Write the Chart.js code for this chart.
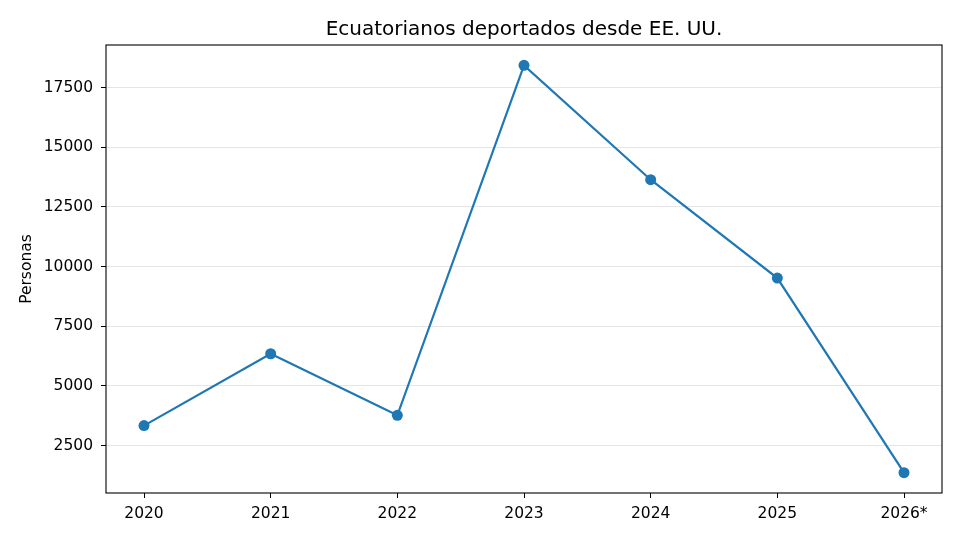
<!DOCTYPE html>
<html>
<head>
<meta charset="utf-8">
<script src="https://cdn.jsdelivr.net/npm/chart.js@4.4.1/dist/chart.umd.min.js"></script>
<style>
  html, body { margin: 0; padding: 0; background: #fff; }
  #wrap { width: 960px; height: 541px; }
</style>
</head>
<body>
<div id="wrap"><canvas id="deportChart" width="960" height="541"></canvas></div>
<script>
// Data
const years = ['2020', '2021', '2022', '2023', '2024', '2025', '2026*'];
const deportados = [3340, 6350, 3770, 18430, 13640, 9520, 1370];
const yTicks = [2500, 5000, 7500, 10000, 12500, 15000, 17500];
const chartTitle = 'Ecuatorianos deportados desde EE. UU.';

// matplotlib-like 5% margins around the data
const lo = Math.min(...deportados), hi = Math.max(...deportados);
const margin = (hi - lo) * 0.05;

// box around the plot area (all four spines) + title centred over the axes
const frame = {
  id: 'frame',
  afterDraw(chart) {
    const { ctx, chartArea: a } = chart;
    ctx.save();
    ctx.strokeStyle = '#000';
    ctx.lineWidth = 1.1;
    ctx.strokeRect(a.left, a.top, a.right - a.left, a.bottom - a.top);

    ctx.fillStyle = '#000';
    ctx.font = '20px "DejaVu Sans"';
    ctx.textAlign = 'center';
    ctx.textBaseline = 'middle';
    ctx.fillText(chartTitle, (a.left + a.right) / 2, 29.5);
    ctx.restore();
  }
};

Chart.defaults.font.family = 'DejaVu Sans';
Chart.defaults.color = '#000';

const ctx = document.getElementById('deportChart').getContext('2d');
const deportChart = new Chart(ctx, {
  type: 'line',
  data: {
    datasets: [{
      label: 'Personas',
      data: deportados.map((v, i) => ({ x: i, y: v })),
      borderColor: '#1f77b4',
      backgroundColor: '#1f77b4',
      borderWidth: 2.2,
      pointRadius: 5.5,
      pointBorderWidth: 0,
      tension: 0
    }]
  },
  options: {
    responsive: false,
    animation: false,
    devicePixelRatio: 1,
    layout: { padding: { left: 0, right: 18, top: 45, bottom: 0 } },
    plugins: {
      legend: { display: false },
      tooltip: { enabled: false },
      title: { display: false }
    },
    scales: {
      x: {
        type: 'linear',
        min: -0.3,
        max: years.length - 1 + 0.3,
        afterBuildTicks: s => { s.ticks = years.map((_, i) => ({ value: i })); },
        afterFit: s => { s.height = 48; },
        ticks: {
          autoSkip: false,
          maxRotation: 0,
          padding: 7,
          font: { size: 15.5 },
          callback: v => years[v]
        },
        grid: { color: 'rgba(0,0,0,0)', tickColor: '#000', tickLength: 5, tickWidth: 1 },
        border: { display: false }
      },
      y: {
        min: lo - margin,
        max: hi + margin,
        afterBuildTicks: s => { s.ticks = yTicks.map(v => ({ value: v })); },
        afterFit: s => { s.width = 106; },
        ticks: { padding: 8, font: { size: 15.5 }, callback: v => String(v) },
        grid: { color: '#e6e6e6', tickColor: '#000', tickLength: 5, tickWidth: 1 },
        border: { display: false },
        title: {
          display: true,
          text: 'Personas',
          font: { size: 15.5 },
          padding: { top: 17.4, bottom: 0 }
        }
      }
    }
  },
  plugins: [frame]
});
</script>
</body>
</html>
